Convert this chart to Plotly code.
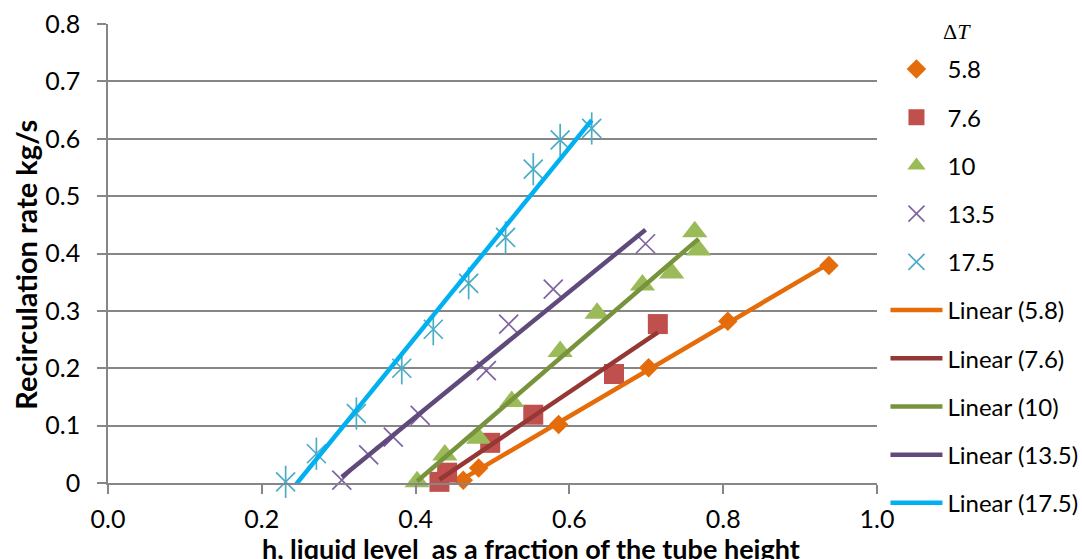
import numpy as np
import plotly.graph_objects as go

# Liquid level h (fraction of tube height) and recirculation rate (kg/s) per ΔT
h_58 = [0.462, 0.482, 0.586, 0.703, 0.806, 0.9375]
q_58 = [0.005, 0.026, 0.102, 0.201, 0.282, 0.379]

h_76 = [0.431, 0.441, 0.497, 0.553, 0.658, 0.715]
q_76 = [0.002, 0.018, 0.070, 0.119, 0.190, 0.277]

h_10 = [0.402, 0.438, 0.482, 0.525, 0.588, 0.636, 0.695, 0.733, 0.763, 0.768]
q_10 = [0.002, 0.049, 0.078, 0.142, 0.229, 0.296, 0.345, 0.366, 0.438, 0.406]

h_135 = [0.304, 0.339, 0.371, 0.406, 0.492, 0.521, 0.579, 0.699]
q_135 = [0.005, 0.049, 0.080, 0.118, 0.196, 0.277, 0.338, 0.417]

h_175 = [0.231, 0.271, 0.323, 0.382, 0.423, 0.469, 0.517, 0.553, 0.588, 0.629]
q_175 = [0.002, 0.051, 0.121, 0.200, 0.268, 0.348, 0.428, 0.547, 0.598, 0.618]

labels = ["5.8", "7.6", "10", "13.5", "17.5"]
x_ticks = [0.0, 0.2, 0.4, 0.6, 0.8, 1.0]
y_ticks = [0, 0.1, 0.2, 0.3, 0.4, 0.5, 0.6, 0.7, 0.8]

series = [
    (h_58, q_58, "diamond", 15, "#E46C0A", "#E46C0A"),
    (h_76, q_76, "square", 20, "#C0504D", "#953735"),
    (h_10, q_10, "triangle-up", 22, "#9BBB59", "#77933C"),
    (h_135, q_135, "x-thin-open", 19, "#8064A2", "#604A7B"),
    (h_175, q_175, "x-thin-open", 19, "#4BACC6", "#00B0F0"),
]

FONT = "Lato"
fig = go.Figure()

# Scatter markers
for i, (hx, qy, sym, size, mcol, _) in enumerate(series):
    open_sym = sym.endswith("open")
    fig.add_trace(go.Scatter(
        x=hx, y=qy, mode="markers", name=labels[i],
        legendgroup=f"m{i}", cliponaxis=False,
        marker=dict(symbol=sym, size=size, color=mcol,
                    line=dict(color=mcol, width=1.7 if open_sym else 0)),
    ))
    if i == 4:
        # vertical stroke completing the star marker
        fig.add_trace(go.Scatter(
            x=hx, y=qy, mode="markers", showlegend=False,
            legendgroup=f"m{i}", cliponaxis=False,
            marker=dict(symbol="line-ns-open", size=23, color=mcol,
                        line=dict(color=mcol, width=1.7)),
        ))

# Least-squares linear trendlines over each series' h range
for i, (hx, qy, _, _, _, lcol) in enumerate(series):
    slope, icpt = np.polyfit(hx, qy, 1)
    xs = np.array([min(hx), max(hx)])
    fig.add_trace(go.Scatter(
        x=xs, y=slope * xs + icpt, mode="lines",
        name=f"Linear ({labels[i]})", legendgroup=f"t{i}",
        line=dict(color=lcol, width=4.5),
    ))

fig.update_layout(
    width=1082, height=559,
    margin=dict(l=108, r=205, t=24, b=76, autoexpand=False),
    paper_bgcolor="white", plot_bgcolor="white",
    font=dict(family=FONT, color="black", size=25),
    showlegend=True,
    legend=dict(
        x=1.011, xanchor="left", y=0.95, yanchor="top",
        font=dict(family=FONT, size=24, color="black"),
        tracegroupgap=14, itemwidth=52, valign="middle",
        maxheight=560,
        bgcolor="rgba(0,0,0,0)",
    ),
    xaxis=dict(
        range=[0, 1.0], tickvals=x_ticks, ticktext=[f"{v:.1f}" for v in x_ticks],
        showgrid=False, zeroline=False, showline=True, linecolor="#868686", linewidth=1.5,
        ticks="outside", ticklen=9, tickwidth=1.5, tickcolor="#868686",
        ticklabelstandoff=4,
        tickfont=dict(family=FONT, size=25, color="black"),
    ),
    yaxis=dict(
        range=[0, 0.8], tickvals=y_ticks, ticktext=[f"{v:g}" for v in y_ticks],
        showgrid=True, gridcolor="#868686", gridwidth=1.5,
        zeroline=False, showline=True, linecolor="#868686", linewidth=1.5,
        ticks="outside", ticklen=9, tickwidth=1.5, tickcolor="#868686",
        ticklabelstandoff=12,
        tickfont=dict(family=FONT, size=25, color="black"),
    ),
    annotations=[
        dict(text="Δ<i>T</i>", xref="paper", yref="paper",
             x=1.104, y=0.983, xanchor="center", yanchor="middle",
             showarrow=False, font=dict(family="Liberation Serif", size=22, color="black")),
        dict(text="<b>Recirculation rate kg/s</b>", xref="paper", yref="paper",
             x=-0.107, y=0.475, xanchor="center", yanchor="middle", textangle=-90,
             showarrow=False, font=dict(family=FONT, size=29, color="black")),
        dict(text="<b>h, liquid level\u00a0 as a fraction of the tube height</b>",
             xref="paper", yref="paper", x=0.55, y=-0.142,
             xanchor="center", yanchor="middle",
             showarrow=False, font=dict(family=FONT, size=27, color="black")),
    ],
)

fig.write_html("out.html")
